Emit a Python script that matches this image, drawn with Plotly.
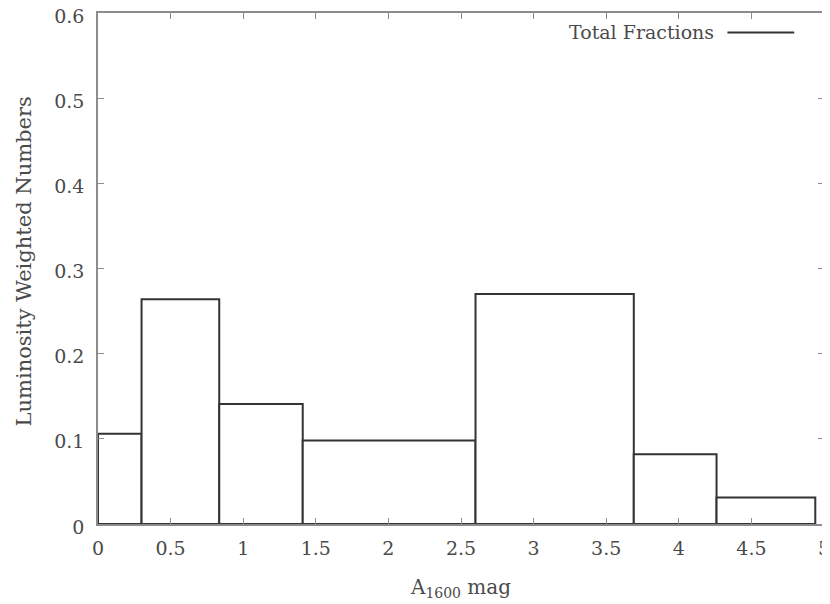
import numpy as np
import plotly.graph_objects as go

# bin edges (A1600 mag) and luminosity weighted fractions
bin_edges = [0.0, 0.30, 0.835, 1.41, 2.60, 3.69, 4.26, 4.94]
fractions = [0.106, 0.264, 0.141, 0.098, 0.270, 0.082, 0.031]
x_ticks = [0, 0.5, 1, 1.5, 2, 2.5, 3, 3.5, 4, 4.5, 5]
y_ticks = [0, 0.1, 0.2, 0.3, 0.4, 0.5, 0.6]

edges = np.array(bin_edges)
centers = (edges[:-1] + edges[1:]) / 2
widths = edges[1:] - edges[:-1]

font = "DejaVu Serif"
txt = "#4a4a4a"

fig = go.Figure()
fig.add_trace(go.Bar(
    x=centers, y=fractions, width=widths,
    marker=dict(color="white", line=dict(color="#333333", width=2)),
    name="Total Fractions", showlegend=False
))

axis_common = dict(
    showgrid=False, zeroline=False, automargin=False,
    showline=True, linecolor="#8c8c8c", linewidth=1.5, mirror="ticks",
    ticks="inside", ticklen=6, tickcolor="#8c8c8c", tickwidth=1,
    tickfont=dict(family=font, size=19, color=txt),
    ticklabeloverflow="allow",
)

# page body has an 8px margin, so the figure is a bit smaller than the window
fig.update_layout(
    width=822, height=596,
    paper_bgcolor="white", plot_bgcolor="white",
    margin=dict(l=90, r=6, t=5, b=80),
    font=dict(family=font, size=19, color=txt),
    xaxis=dict(range=[0, 5], tickvals=x_ticks,
               ticktext=[f"{v:g}" for v in x_ticks],
               ticklabelstandoff=6,
               title=dict(text="A<sub>1600</sub> mag", standoff=22,
                          font=dict(family=font, size=20, color=txt)),
               **axis_common),
    yaxis=dict(range=[0, 0.6], tickvals=y_ticks,
               ticktext=[f"{v:g}" for v in y_ticks],
               ticklabelstandoff=8, ticklabelshift=3,
               **axis_common),
    annotations=[
        dict(x=-0.1025, y=0.513, xref="paper", yref="paper",
             xanchor="center", yanchor="middle", showarrow=False,
             textangle=-90, text="Luminosity Weighted Numbers",
             font=dict(family=font, size=21, color=txt)),
        dict(x=0.851, y=0.962, xref="paper", yref="paper",
             xanchor="right", yanchor="middle", showarrow=False,
             text="Total Fractions",
             font=dict(family=font, size=19, color=txt)),
    ],
    shapes=[dict(
        type="line", xref="paper", yref="paper",
        x0=0.867, x1=0.959, y0=0.962, y1=0.962,
        line=dict(color="#333333", width=2)
    )],
)

fig.write_html("out.html")
